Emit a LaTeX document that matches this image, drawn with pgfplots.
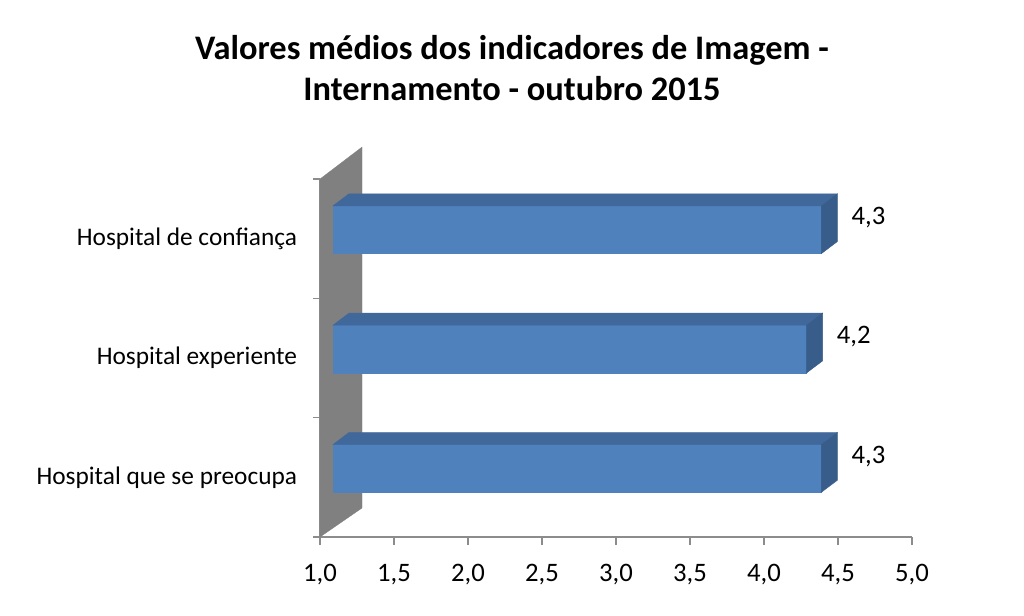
\documentclass[border=0pt]{standalone}
\usepackage{fontspec}
\setmainfont{Carlito}
\usepackage{pgfplots}
\pgfplotsset{compat=1.18}
\definecolor{front}{HTML}{4F81BD}
\definecolor{topf}{HTML}{41689B}
\definecolor{side}{HTML}{385D8A}
\definecolor{wall}{HTML}{808080}
\definecolor{axline}{HTML}{8C8C8C}
\begin{document}
\begin{tikzpicture}
% canvas: 1024 x 615 px at 0.75pt per px, axis corner at px (320,537)
\path (-240pt,-58.5pt) rectangle (528pt,402.75pt);
\node[font=\fontsize{25.8}{31}\selectfont\bfseries, align=center] at (144pt,351.75pt)
  {Valores médios dos indicadores de Imagem -\\Internamento - outubro 2015};
\begin{axis}[
  at={(0pt,0pt)}, anchor=south west,
  scale only axis, width=444pt, height=268.5pt,
  xmin=1, xmax=5, ymin=-0.5, ymax=2.5,
  clip=false,
  axis x line*=bottom, axis y line*=left,
  axis line style={draw=axline, line width=0.9pt},
  xtick={1,1.5,...,5},
  ytick={0,1,2},
  yticklabels={Hospital que se preocupa, Hospital experiente, Hospital de confiança},
  minor ytick={-0.5,0.5,1.5,2.5},
  tick align=outside,
  major tick length=6pt,
  minor tick length=5pt,
  y tick style={draw=none},
  minor y tick style={draw=axline, line width=0.9pt},
  x tick style={draw=axline, line width=0.9pt},
  tick label style={font=\fontsize{19}{22}\selectfont},
  xticklabel style={yshift=-11pt, font=\fontsize{20}{22}\selectfont},
  x tick label style={/pgf/number format/fixed, /pgf/number format/fixed zerofill,
    /pgf/number format/precision=1, /pgf/number format/use comma,
    /pgf/number format/assume math mode=true},
  yticklabel style={inner sep=0pt, anchor=east, xshift=-11pt},
]
% wall
\addplot[fill=wall, draw=wall, line width=0.2pt] coordinates {(1,-0.5) (1.284,-0.257) (1.284,2.768) (1,2.5)} -- cycle;
% bar: Hospital que se preocupa (4,3)
\addplot[fill=front, draw=front, line width=0.3pt] coordinates {(1.088,-0.125) (4.388,-0.125) (4.388,0.275) (1.088,0.275)} -- cycle;
\addplot[fill=topf, draw=topf, line width=0.3pt] coordinates {(1.088,0.275) (4.388,0.275) (4.496,0.376) (1.196,0.376)} -- cycle;
\addplot[fill=side, draw=side, line width=0.3pt] coordinates {(4.388,-0.125) (4.496,-0.024) (4.496,0.376) (4.388,0.275)} -- cycle;
% bar: Hospital experiente (4,2)
\addplot[fill=front, draw=front, line width=0.3pt] coordinates {(1.088,0.875) (4.288,0.875) (4.288,1.275) (1.088,1.275)} -- cycle;
\addplot[fill=topf, draw=topf, line width=0.3pt] coordinates {(1.088,1.275) (4.288,1.275) (4.396,1.376) (1.196,1.376)} -- cycle;
\addplot[fill=side, draw=side, line width=0.3pt] coordinates {(4.288,0.875) (4.396,0.976) (4.396,1.376) (4.288,1.275)} -- cycle;
% bar: Hospital de confianca (4,3)
\addplot[fill=front, draw=front, line width=0.3pt] coordinates {(1.088,1.875) (4.388,1.875) (4.388,2.275) (1.088,2.275)} -- cycle;
\addplot[fill=topf, draw=topf, line width=0.3pt] coordinates {(1.088,2.275) (4.388,2.275) (4.496,2.376) (1.196,2.376)} -- cycle;
\addplot[fill=side, draw=side, line width=0.3pt] coordinates {(4.388,1.875) (4.496,1.976) (4.496,2.376) (4.388,2.275)} -- cycle;
% data labels
\addplot[draw=none, mark=none, point meta=explicit,
  nodes near coords={\pgfmathprintnumber[fixed, fixed zerofill, precision=1, use comma, assume math mode=true]{\pgfplotspointmeta}},
  every node near coord/.style={anchor=west, inner sep=0pt, xshift=10.5pt, font=\fontsize{20}{22}\selectfont}]
  coordinates {(4.496,0.176) [4.3] (4.396,1.176) [4.2] (4.496,2.176) [4.3]};
\end{axis}
\end{tikzpicture}
\end{document}
